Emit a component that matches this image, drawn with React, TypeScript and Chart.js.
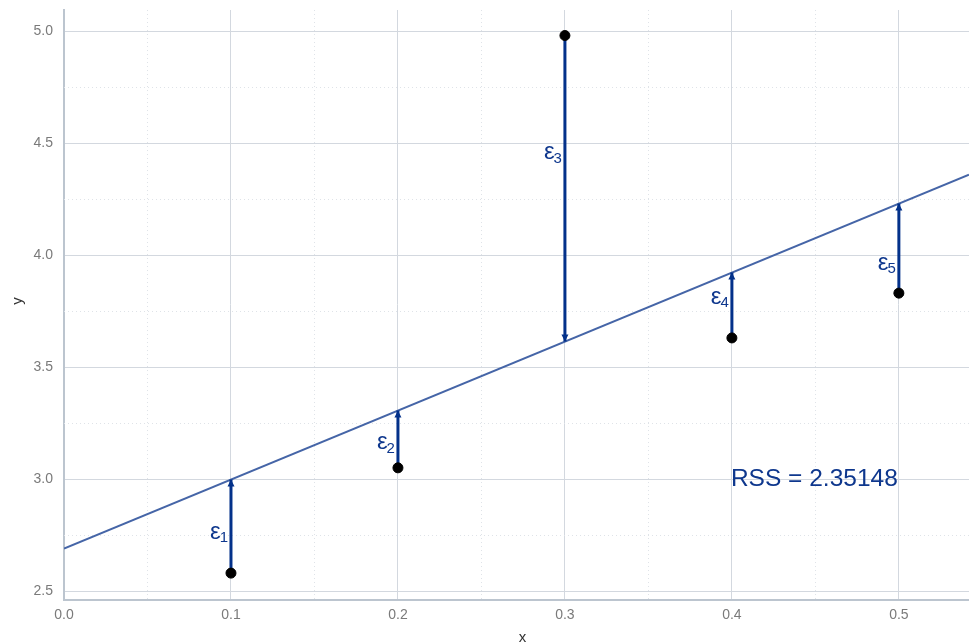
import React, { useEffect, useRef } from "react";
import Chart from "chart.js/auto";

// ---- data ----
const X_VALUES = [0.1, 0.2, 0.3, 0.4, 0.5];
const Y_OBSERVED = [2.58, 3.05, 4.98, 3.63, 3.83];
const Y_FITTED = [2.998, 3.306, 3.614, 3.922, 4.23];
const LINE_X = [0, 0.542];
const LINE_Y = [2.69, 4.359];
const EPS_LABEL_Y = [2.76, 3.16, 4.455, 3.81, 3.96];
const EPS_SUBSCRIPTS = ["1", "2", "3", "4", "5"];
const X_TICKS = [0, 0.1, 0.2, 0.3, 0.4, 0.5];
const Y_TICKS = [2.5, 3.0, 3.5, 4.0, 4.5, 5.0];
const X_MINOR = [0.05, 0.15, 0.25, 0.35, 0.45];
const Y_MINOR = [2.75, 3.25, 3.75, 4.25, 4.75];
const X_RANGE = [0, 0.542];
const Y_RANGE = [2.46, 5.094];
const RSS_TEXT = "RSS = 2.35148";
const RSS_AT_X = 0.4;
const RSS_AT_Y = 3.0;

const FONT = "'Liberation Sans', Arial, sans-serif";
const NAVY = "#03318a";
const TEXT_NAVY = "#0e378d";

const overlayPlugin = {
  id: "overlay",
  beforeDatasetsDraw(chart: any) {
    const { ctx, chartArea, scales } = chart;
    const { left, right, top, bottom } = chartArea;
    const x = scales.x;
    const y = scales.y;
    ctx.save();
    ctx.strokeStyle = "#dfe3e8";
    ctx.lineWidth = 1;
    ctx.setLineDash([1, 3]);
    X_MINOR.forEach((v) => {
      const px = Math.round(x.getPixelForValue(v)) + 0.5;
      ctx.beginPath();
      ctx.moveTo(px, top);
      ctx.lineTo(px, bottom);
      ctx.stroke();
    });
    Y_MINOR.forEach((v) => {
      const py = Math.round(y.getPixelForValue(v)) + 0.5;
      ctx.beginPath();
      ctx.moveTo(left, py);
      ctx.lineTo(right, py);
      ctx.stroke();
    });
    ctx.restore();
  },
  afterDatasetsDraw(chart: any) {
    const { ctx, scales } = chart;
    const x = scales.x;
    const y = scales.y;
    ctx.save();
    // arrowheads
    ctx.fillStyle = NAVY;
    X_VALUES.forEach((xv, i) => {
      const px = x.getPixelForValue(xv);
      const pf = y.getPixelForValue(Y_FITTED[i]);
      const po = y.getPixelForValue(Y_OBSERVED[i]);
      const dir = pf > po ? 1 : -1;
      ctx.beginPath();
      ctx.moveTo(px, pf);
      ctx.lineTo(px - 3.5, pf - dir * 7);
      ctx.lineTo(px + 3.5, pf - dir * 7);
      ctx.closePath();
      ctx.fill();
    });
    // epsilon labels
    ctx.fillStyle = TEXT_NAVY;
    ctx.textBaseline = "alphabetic";
    ctx.textAlign = "left";
    const epsSize = 24;
    const subSize = 15;
    X_VALUES.forEach((xv, i) => {
      const px = x.getPixelForValue(xv);
      const cy = y.getPixelForValue(EPS_LABEL_Y[i]);
      ctx.font = `${subSize}px ${FONT}`;
      const wS = ctx.measureText(EPS_SUBSCRIPTS[i]).width;
      ctx.font = `${epsSize}px ${FONT}`;
      const wE = ctx.measureText("ε").width;
      const right = px - 3;
      ctx.fillText("ε", right - wS - wE + 1, cy + 0.26 * epsSize);
      ctx.font = `${subSize}px ${FONT}`;
      ctx.fillText(EPS_SUBSCRIPTS[i], right - wS, cy + 4 + 0.36 * subSize);
    });
    // RSS text
    ctx.font = `24.5px ${FONT}`;
    ctx.textBaseline = "middle";
    ctx.fillText(RSS_TEXT, x.getPixelForValue(RSS_AT_X) - 1, y.getPixelForValue(RSS_AT_Y));
    ctx.restore();
  },
  afterDraw(chart: any) {
    const { ctx, chartArea } = chart;
    ctx.save();
    ctx.fillStyle = "#333333";
    ctx.font = `15px ${FONT}`;
    ctx.textAlign = "center";
    ctx.textBaseline = "middle";
    ctx.fillText("x", (chartArea.left + chartArea.right) / 2 + 6, 638);
    ctx.translate(18, (chartArea.top + chartArea.bottom) / 2 - 4);
    ctx.rotate(-Math.PI / 2);
    ctx.fillText("y", 0, 0);
    ctx.restore();
  },
};

export default function App() {
  const ref = useRef<HTMLCanvasElement | null>(null);
  useEffect(() => {
    document.body.style.margin = "0";
    if (!ref.current) return;
    const arrowSets = X_VALUES.map((xv, i) => ({
      type: "line" as const,
      data: [
        { x: xv, y: Y_OBSERVED[i] },
        { x: xv, y: Y_FITTED[i] },
      ],
      borderColor: NAVY,
      borderWidth: 3,
      pointRadius: 0,
      order: 1,
    }));
    const chart = new Chart(ref.current, {
      type: "scatter",
      data: {
        datasets: [
          {
            type: "scatter",
            data: X_VALUES.map((xv, i) => ({ x: xv, y: Y_OBSERVED[i] })),
            backgroundColor: "#000000",
            borderColor: "#000000",
            pointRadius: 5,
            order: 0,
          } as any,
          ...arrowSets,
          {
            type: "line",
            data: LINE_X.map((xv, i) => ({ x: xv, y: LINE_Y[i] })),
            borderColor: "#4565a7",
            borderWidth: 2,
            pointRadius: 0,
            order: 2,
          } as any,
        ],
      },
      options: {
        animation: false,
        responsive: false,
        layout: { autoPadding: false, padding: { top: 10, right: 0, left: 0, bottom: 0 } },
        plugins: { legend: { display: false }, tooltip: { enabled: false } },
        scales: {
          x: {
            type: "linear",
            min: X_RANGE[0],
            max: X_RANGE[1],
            afterBuildTicks: (axis: any) => {
              axis.ticks = X_TICKS.map((v) => ({ value: v }));
            },
            afterFit: (scale: any) => {
              scale.height = 44;
              scale.paddingLeft = 0;
              scale.paddingRight = 0;
            },
            ticks: {
              callback: (v: any) => Number(v).toFixed(1),
              color: "#7a7a7a",
              font: { family: FONT, size: 14 },
              padding: 7,
              maxRotation: 0,
            },
            grid: { color: "#d3d8df", lineWidth: 1, drawTicks: false },
            border: { display: true, color: "#bcc5cf", width: 2 },
          },
          y: {
            type: "linear",
            min: Y_RANGE[0],
            max: Y_RANGE[1],
            afterBuildTicks: (axis: any) => {
              axis.ticks = Y_TICKS.map((v) => ({ value: v }));
            },
            afterFit: (scale: any) => {
              scale.width = 64;
              scale.paddingTop = 0;
              scale.paddingBottom = 0;
            },
            ticks: {
              callback: (v: any) => Number(v).toFixed(1),
              color: "#7a7a7a",
              font: { family: FONT, size: 14 },
              padding: 11,
            },
            grid: { color: "#d3d8df", lineWidth: 1, drawTicks: false },
            border: { display: true, color: "#bcc5cf", width: 2 },
          },
        },
      },
      plugins: [overlayPlugin],
    });
    return () => chart.destroy();
  }, []);
  return (
    <div style={{ width: 969, height: 644 }}>
      <canvas ref={ref} width={969} height={644} style={{ display: "block", width: 969, height: 644 }} />
    </div>
  );
}
